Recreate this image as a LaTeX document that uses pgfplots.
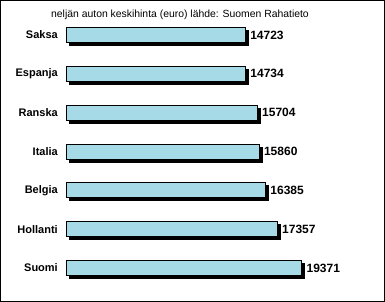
\documentclass[border=0pt]{standalone}
\usepackage{pgfplots}
\pgfplotsset{compat=1.18}
\usepackage{fontspec}
\setmainfont{Liberation Sans}
\usetikzlibrary{shadows}
\definecolor{barblue}{RGB}{166,218,231}
\begin{document}
\begin{tikzpicture}
\begin{scope}[x=1pt,y=1pt,shift={(-67pt,287.4pt)}]
\useasboundingbox (0,0) rectangle (385,-302);
\draw[line width=1pt] (0.5,-0.5) rectangle (384.5,-301.5);
\node[font=\fontsize{10.4pt}{12pt}\selectfont, anchor=center] at (180,-15) {neljän auton keskihinta (euro) lähde: Suomen Rahatieto};
\end{scope}
\begin{axis}[
  at={(0pt,0pt)}, anchor=south west,
  scale only axis, width=302.75pt, height=271.8pt,
  xmin=0, xmax=25000,
  ymin=-0.5, ymax=6.5, y dir=reverse,
  xbar, bar width=15pt,
  axis line style={draw=none},
  xtick=\empty,
  ytick={0,1,2,3,4,5,6},
  yticklabels={Saksa,Espanja,Ranska,Italia,Belgia,Hollanti,Suomi},
  ytick style={draw=none},
  major tick length=0pt,
  yticklabel style={font=\fontsize{11pt}{13pt}\selectfont\bfseries, inner sep=0pt, xshift=-9pt},
  nodes near coords,
  nodes near coords style={font=\fontsize{12pt}{14pt}\selectfont\bfseries, anchor=west, inner sep=0pt, xshift=4.5pt},
  point meta=explicit symbolic,
  clip=false,
]
\addplot[draw=black, line width=1pt, fill=barblue,
  drop shadow={shadow xshift=3pt, shadow yshift=-3pt, opacity=1, fill=black}]
  coordinates {
  (14723,0) [14723]
  (14734,1) [14734]
  (15704,2) [15704]
  (15860,3) [15860]
  (16385,4) [16385]
  (17357,5) [17357]
  (19371,6) [19371]
};
\end{axis}
\end{tikzpicture}
\end{document}
